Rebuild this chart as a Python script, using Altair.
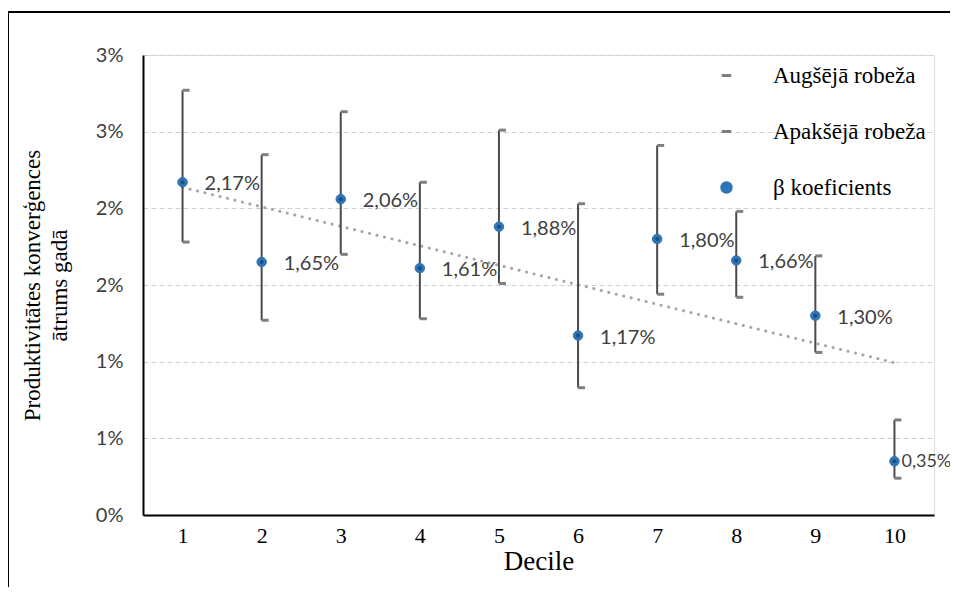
import altair as alt
import pandas as pd

deciles = [1, 2, 3, 4, 5, 6, 7, 8, 9, 10]
beta = [2.17, 1.65, 2.06, 1.61, 1.88, 1.17, 1.80, 1.66, 1.30, 0.35]
upper = [2.77, 2.35, 2.63, 2.17, 2.51, 2.03, 2.41, 1.98, 1.69, 0.62]
lower = [1.78, 1.27, 1.70, 1.28, 1.51, 0.83, 1.44, 1.42, 1.06, 0.24]
series_names = ["Augšējā robeža", "Apakšējā robeža", "β koeficients"]
y_ticks = [0, 0.5, 1, 1.5, 2, 2.5, 3]
y_title = ["Produktivitātes  konverģences", "ātrums gadā"]

df = pd.DataFrame({
    "decile": deciles,
    "beta": beta,
    "upper": upper,
    "lower": lower,
    "series": series_names[2],
})

W, H = 791, 460
serif = "Liberation Serif"
sans = "Lato"

x = alt.X("decile:Q",
          scale=alt.Scale(domain=[0.5, 10.5], nice=False, zero=False),
          axis=alt.Axis(values=deciles, title="Decile", grid=False, ticks=False,
                        labelPadding=10, titlePadding=2,
                        labelFont=serif, labelFontSize=22,
                        titleFont=serif, titleFontSize=27))
y_scale = alt.Scale(domain=[0, 3], nice=False)
y_axis = alt.Axis(values=y_ticks, grid=True, gridColor="#d0d0d0",
                  gridDash=[5, 3], gridWidth=1, ticks=False,
                  labelExpr="round(datum.value) + '%'",
                  labelFont=sans, labelFontSize=20, labelColor="#404040",
                  labelPadding=20, title=y_title,
                  titleFont=serif, titleFontSize=23, titlePadding=24,
                  titleLineHeight=27)


def Y(field):
    return alt.Y(field, scale=y_scale, axis=y_axis, title=y_title)


base = alt.Chart(df)

frame_left = base.mark_rule(color="black", strokeWidth=1.5).encode(
    x=alt.value(-135), y=alt.value(-43), y2=alt.value(H + 140))
frame_top = base.mark_rule(color="black", strokeWidth=1.5).encode(
    x=alt.value(-135), x2=alt.value(W + 100), y=alt.value(-43))

trend = base.transform_regression("decile", "beta").mark_line(
    color="#a6a6a6", strokeWidth=3, strokeDash=[0.1, 7.6], strokeCap="round"
).encode(x=x, y=Y("beta:Q"))

bars = base.mark_rule(color="#4a4a4a", strokeWidth=2).encode(
    x=x, y=Y("lower:Q"), y2="upper:Q")

cap_up = base.mark_rule(color="#7f7f7f", strokeWidth=3, x2Offset=7).encode(
    x=x, x2="decile:Q", y=Y("upper:Q"))
cap_lo = base.mark_rule(color="#7f7f7f", strokeWidth=3, x2Offset=7).encode(
    x=x, x2="decile:Q", y=Y("lower:Q"))

legend = alt.Legend(title=None, orient="none", legendX=572, legendY=9,
                    labelFont=serif, labelFontSize=23, labelColor="#000000",
                    labelOffset=35, rowPadding=32, symbolSize=90,
                    symbolStrokeWidth=3, padding=0, labelLimit=300)
colors = ["#7f7f7f", "#7f7f7f", "#2e75b6"]

points = base.mark_point(filled=True, size=90, opacity=1, strokeWidth=1).encode(
    x=x, y=Y("beta:Q"),
    fill=alt.Fill("series:N", scale=alt.Scale(domain=series_names, range=colors),
                  legend=legend),
    stroke=alt.Stroke("series:N", scale=alt.Scale(domain=series_names, range=colors),
                      legend=legend),
    shape=alt.Shape("series:N", scale=alt.Scale(domain=series_names,
                    range=["stroke", "stroke", "circle"]), legend=legend),
)

centers = base.mark_point(filled=True, size=16, color="#1f4e79", opacity=1).encode(
    x=x, y=Y("beta:Q"))

label_expr = "replace(format(datum.beta, '.2f'), '.', ',') + '%'"
labels = base.transform_filter("datum.decile < 10").transform_calculate(
    lab=label_expr).mark_text(
    align="left", baseline="middle", dx=22, dy=2, font=sans, fontSize=20,
    color="#404040").encode(x=x, y=Y("beta:Q"), text="lab:N")
label10 = base.transform_filter("datum.decile == 10").transform_calculate(
    lab=label_expr).mark_text(
    align="left", baseline="middle", dx=7, dy=1, font=sans, fontSize=18,
    color="#404040").encode(x=x, y=Y("beta:Q"), text="lab:N")

chart = alt.layer(frame_left, frame_top, trend, bars, cap_up, cap_lo, points,
                  centers, labels, label10).properties(
    width=W, height=H,
    autosize=alt.AutoSizeParams(type="none"),
    padding={"left": 135, "top": 47, "right": 16, "bottom": 72},
).configure_view(stroke="black", strokeWidth=2).configure(
    background="white"
).configure_axis(
    domainColor="black", domainWidth=2, labelColor="#000000",
    titleColor="#000000", titleFontWeight="normal", titleFont=serif
).configure_legend(
    labelFont=serif, labelFontSize=23, labelColor="#000000"
)

chart.save("out.html", embed_options={"renderer": "svg", "actions": False})
